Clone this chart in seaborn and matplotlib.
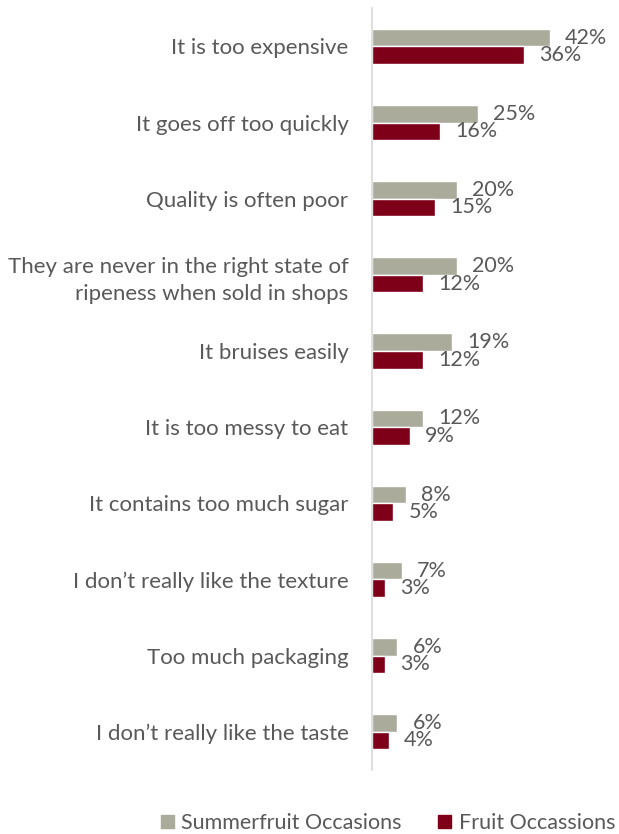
import matplotlib
matplotlib.use("Agg")
import matplotlib.pyplot as plt
import seaborn as sns
import pandas as pd

categories = [
    "It is too expensive",
    "It goes off too quickly",
    "Quality is often poor",
    "They are never in the right state of\nripeness when sold in shops",
    "It bruises easily",
    "It is too messy to eat",
    "It contains too much sugar",
    "I don\u2019t really like the texture",
    "Too much packaging",
    "I don\u2019t really like the taste",
]
summerfruit = [42, 25, 20, 20, 19, 12, 8, 7, 6, 6]
fruit = [36, 16, 15, 12, 12, 9, 5, 3, 3, 4]
series_names = ["Summerfruit Occasions", "Fruit Occassions"]
colors = ["#ABAB9C", "#7D0018"]

df = pd.DataFrame({
    "category": categories * 2,
    "value": summerfruit + fruit,
    "series": [series_names[0]] * len(categories) + [series_names[1]] * len(categories),
})

sns.set_theme(style="white")
plt.rcParams["font.family"] = ["Lato", "DejaVu Sans"]
text_color = "#595959"

fig = plt.figure(figsize=(6.19, 8.34), dpi=100)
ax = fig.add_axes([0.601, 0.077, 0.396, 0.913])

sns.barplot(data=df, y="category", x="value", hue="series", order=categories,
            hue_order=series_names, palette=colors, orient="h", width=0.46,
            ax=ax, saturation=1, legend=True)

for cont in ax.containers:
    ax.bar_label(cont, fmt="%.0f%%", padding=11, fontsize=15.5, color=text_color)

ax.set_xlim(0, 58)
ax.set_ylim(len(categories) - 0.5, -0.5)
ax.set_xlabel("")
ax.set_ylabel("")
ax.set_xticks([])
ax.tick_params(axis="y", length=0, pad=17, labelsize=16, labelcolor=text_color)
for lbl in ax.get_yticklabels():
    lbl.set_horizontalalignment("right")
    lbl.set_multialignment("right")
    lbl.set_linespacing(1.45)
for s in ["top", "right", "bottom"]:
    ax.spines[s].set_visible(False)
ax.spines["left"].set_color("#D9D9D9")
ax.spines["left"].set_linewidth(1.2)

ax.legend_.remove()
handles = [plt.Rectangle((0, 0), 1, 1, color=c) for c in colors]
fig.legend(handles, series_names, loc="center", bbox_to_anchor=(0.627, 0.013), ncol=2,
           frameon=False, fontsize=15.5, labelcolor=text_color, handlelength=0.6,
           handleheight=0.6, handletextpad=0.35, columnspacing=1.7,
           borderpad=0, borderaxespad=0)

fig.savefig("out.png", dpi=100)
